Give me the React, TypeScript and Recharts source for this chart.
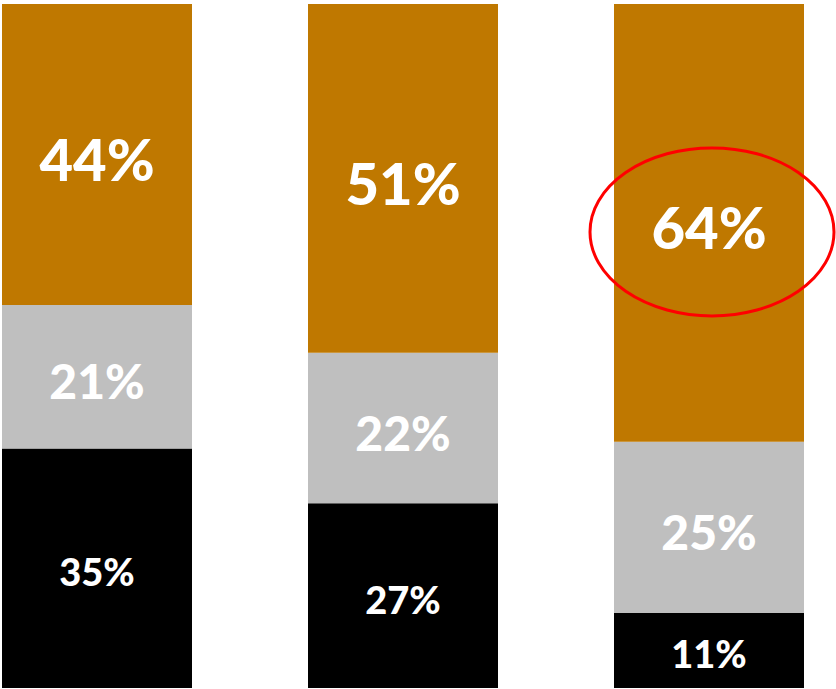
import { Bar, BarChart, LabelList, ReferenceDot, XAxis, YAxis } from "recharts";

const groups = ["Group 1", "Group 2", "Group 3"];
const topShare = [44, 51, 64];
const middleShare = [21, 22, 25];
const bottomShare = [35, 27, 11];
const highlighted = 2;

const data = groups.map((name, i) => ({
  name,
  bottom: bottomShare[i],
  middle: middleShare[i],
  top: topShare[i],
}));

const font = "Lato, 'Open Sans', sans-serif";

function centerLabel(size: number, dy: number) {
  return (props: any) => {
    const { x, y, width, height, value } = props;
    return (
      <text
        x={Number(x) + Number(width) / 2}
        y={Number(y) + Number(height) / 2 + dy}
        textAnchor="middle"
        dominantBaseline="central"
        fill="#ffffff"
        fontFamily={font}
        fontWeight={900}
        fontSize={size}
      >
        {value}%
      </text>
    );
  };
}

const ellipse = (props: any) => (
  <ellipse cx={props.cx + 3} cy={props.cy + 9} rx={122} ry={84} fill="none" stroke="#ff0000" strokeWidth={3} />
);

export default function App() {
  const mark = bottomShare[highlighted] + middleShare[highlighted] + topShare[highlighted] / 2;
  return (
    <div style={{ position: "absolute", left: 0, top: 0, width: 836, height: 689, overflow: "hidden", background: "#fff" }}>
      <div style={{ marginLeft: -56 }}>
        <BarChart width={918} height={689} data={data} margin={{ top: 4, right: 0, bottom: 1, left: 0 }} barSize={190}>
          <XAxis dataKey="name" hide />
          <YAxis hide domain={[0, 100]} />
          <Bar dataKey="bottom" stackId="s" fill="#000000" isAnimationActive={false}>
            <LabelList dataKey="bottom" content={centerLabel(38, 3)} />
          </Bar>
          <Bar dataKey="middle" stackId="s" fill="#bfbfbf" isAnimationActive={false}>
            <LabelList dataKey="middle" content={centerLabel(48, 4)} />
          </Bar>
          <Bar dataKey="top" stackId="s" fill="#bf7800" isAnimationActive={false}>
            <LabelList dataKey="top" content={centerLabel(58, 4)} />
          </Bar>
          <ReferenceDot x={groups[highlighted]} y={mark} shape={ellipse} />
        </BarChart>
      </div>
    </div>
  );
}
